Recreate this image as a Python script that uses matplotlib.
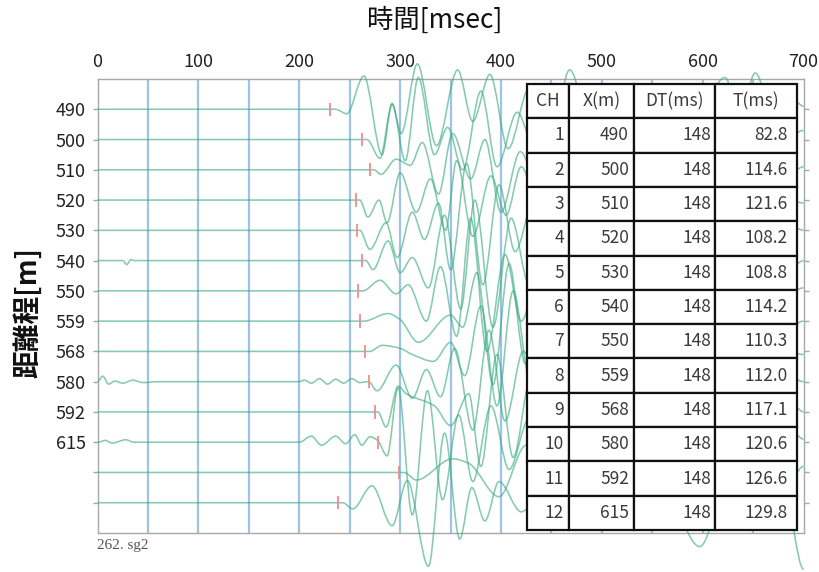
import matplotlib
matplotlib.use('Agg')
import matplotlib.pyplot as plt
from matplotlib.path import Path
from matplotlib.patches import PathPatch

plt.rcParams['font.family'] = ['Noto Sans CJK JP', 'DejaVu Sans']

# ---------------- data ----------------
row_labels = ['490', '500', '510', '520', '530', '540', '550', '559', '568', '580', '592', '615', '', '']
time_ticks = [0, 100, 200, 300, 400, 500, 600, 700]
grid_ms = [50, 100, 150, 200, 250, 300, 350, 400, 450, 500, 550, 600, 650]

table_ch = [1, 2, 3, 4, 5, 6, 7, 8, 9, 10, 11, 12]
table_x = [490, 500, 510, 520, 530, 540, 550, 559, 568, 580, 592, 615]
table_dt = [148, 148, 148, 148, 148, 148, 148, 148, 148, 148, 148, 148]
table_t = [82.8, 114.6, 121.6, 108.2, 108.8, 114.2, 110.3, 112.0, 117.1, 120.6, 126.6, 129.8]

# first-break picks (ms) for each of the 14 traces
pick_ms = [230.8, 262.6, 269.6, 256.2, 256.8, 262.2, 258.3, 260.0, 265.1, 268.6, 274.6, 277.8, 299.0, 238.6]

# trace knots: (time ms, amplitude in trace spacings, + = up)
trace_01 = [(0, 0), (236, 0), (240, -0.05), (247, -0.15), (264, 1.1), (282, -1.5), (292, 0.2), (301, -0.8),
            (317, 1.5), (336, -1.2), (357, 1.3), (372, -0.4), (389, 1.15), (407, -1.3), (428, 0.7), (450, -0.8),
            (468, 1.3), (490, -0.6), (515, 0.7), (540, -0.9), (565, 0.6), (590, -0.5), (622, 1.05), (637, -0.2),
            (652, 1.2), (672, -0.4), (690, 0.3), (700, 0.1)]
trace_02 = [(0, 0), (262.6, 0), (267, 0), (280, -0.62), (292, 1.15), (305, -0.7),
            (318, 2.05), (334, -0.5), (347, 0.4), (362, -1.0), (380, 1.6), (396, -0.9), (416, 0.9), (437, -0.7),
            (462, 0.8), (488, -0.5), (510, 0.6), (540, -0.8), (575, 0.5), (605, -0.6), (640, 0.7), (668, -0.4),
            (700, 0.3)]
trace_03 = [(0, 0), (269.6, 0), (274, 0), (281, -0.15), (296, 0.35), (310, 0.15), (322, 0.9), (338, -0.8),
            (352, 1.2), (370, -0.3), (384, 1.0), (400, -1.4), (419, 0.6), (440, -0.8), (462, 0.9), (490, -0.6),
            (520, 0.7), (550, -0.5), (585, 0.6), (615, -0.7), (650, 0.5), (680, -0.3), (700, 0.1)]
trace_04 = [(0, 0), (256.2, 0), (260, 0), (268, -0.56), (279, 0.0), (287, -0.75), (300, 0.9), (316, -0.4),
            (330, 0.7), (345, -1.0), (356, 1.3), (372, -1.2), (390, 0.8), (405, -0.5), (420, 1.1), (442, -0.9),
            (470, 0.6), (500, -0.7), (530, 0.5), (560, -0.6), (595, 0.7), (630, -0.5), (665, 0.4), (700, -0.1)]
trace_05 = [(0, 0), (256.8, 0), (260, 0), (270, -0.63), (286, 0.25), (297, -0.9), (312, 0.6), (324, -0.3),
            (338, 0.9), (350, -1.3), (366, 2.2), (382, -1.8), (398, 1.5), (414, -0.7), (432, 0.9), (455, -0.6),
            (480, 0.5), (505, -0.5), (540, 0.6), (575, -0.4), (610, 0.5), (645, -0.6), (680, 0.3), (700, 0)]
trace_06 = [(0, 0), (25, 0), (29, -0.13), (33, 0.03), (37, 0), (262.2, 0), (266, 0), (273, -0.3), (288, 0.65),
            (300, -0.4), (312, 0.1), (328, -0.9), (344, 1.5), (360, -1.6), (374, 2.0), (392, -2.2), (410, 1.4),
            (428, -0.8), (450, 0.7), (478, -0.6), (505, 0.5), (540, -0.7), (575, 0.6), (610, -0.4), (650, 0.5),
            (685, -0.3), (700, 0)]
trace_07 = [(0, 0), (258.3, 0), (263, 0), (280, 0.35), (296, -0.1), (308, 0.2), (326, -1.0), (340, 0.8),
            (356, -1.5), (370, 2.4), (386, -2.0), (404, 1.2), (420, -1.0), (440, 0.9), (465, -0.5), (495, 0.6),
            (530, -0.5), (565, 0.4), (600, -0.6), (640, 0.5), (675, -0.3), (700, 0.1)]
trace_08 = [(0, 0), (260, 0), (264, 0), (288, 0.25), (300, 0.05), (318, -0.7), (350, 0.2), (362, -0.2),
            (376, 1.6), (392, -2.1), (408, 1.9), (424, -1.4), (442, 0.8), (466, -0.7), (492, 0.6), (525, -0.5),
            (560, 0.5), (600, -0.4), (640, 0.5), (680, -0.3), (700, 0)]
trace_09 = [(0, 0), (265.1, 0), (270, 0), (282, 0.2), (300, 0.1), (312, -0.1), (333, -0.33), (350, 0.3),
            (364, -0.8), (380, 1.5), (396, -1.8), (412, 2.0), (430, -1.2), (450, 0.9), (475, -0.7), (505, 0.6),
            (540, -0.5), (575, 0.4), (615, -0.5), (655, 0.4), (700, -0.1)]
trace_10 = [(0, 0), (5, 0.18), (11, -0.08), (17, 0.02), (25, -0.05), (35, 0.05), (45, -0.03), (60, 0.0),
            (200, 0), (205, 0.05), (212, -0.05), (220, 0.1), (228, -0.08), (236, 0.08), (244, -0.05),
            (252, 0.1), (260, -0.03), (268.6, 0), (277, -0.3), (296, 0.55), (312, -0.55), (326, 0.4), (340, -0.5),
            (354, 1.1), (372, -1.6), (388, 1.7), (404, -1.3), (422, 1.0), (445, -0.8), (470, 0.6), (500, -0.6),
            (530, 0.5), (565, -0.5), (600, 0.4), (640, -0.5), (680, 0.3), (700, 0)]
trace_11 = [(0, 0), (274.6, 0), (278, 0), (286, -0.5), (298, 0.85), (306, 0.6), (334, 0.2), (350, -0.45),
            (368, 0.6), (380, -1.8), (396, 1.9), (412, -1.5), (430, 1.2), (452, -0.9), (478, 0.7), (508, -0.6),
            (540, 0.5), (575, -0.5), (610, 0.4), (650, -0.5), (690, 0.2), (700, 0)]
trace_12 = [(0, 0), (8, 0.06), (14, -0.03), (28, 0.08), (36, 0), (200, 0), (212, 0.2), (222, -0.1),
            (236, 0.2), (246, -0.05), (255, 0.25), (262, -0.1), (270, 0.18), (277.8, 0.05), (287, -0.45),
            (298, 1.8), (312, -2.4), (327, 1.7), (342, -1.9), (358, 0.9), (372, -1.3), (390, 1.2), (408, -0.9),
            (428, 0.8), (452, -0.7), (478, 0.6), (505, -0.5), (540, 0.6), (575, -0.5), (610, 0.4), (650, -0.5),
            (690, 0.3), (700, 0.1)]
trace_13 = [(0, 0), (299, 0), (304, 0), (316, -0.25), (352, 0.45), (368, 0.3), (398, -0.8), (425, 0.9),
            (450, -0.7), (478, 0.8), (505, -0.9), (535, 0.7), (565, -0.8), (590, 0.6), (620, -0.7), (650, 0.5),
            (680, -0.6), (700, 0.2)]
trace_14 = [(0, 0), (238.6, 0), (243, 0), (253, -0.2), (272, 0.56), (292, -0.76), (307, 0.73), (328, -2.1),
            (344, 2.3), (359, -1.2), (371, 0.5), (384, -0.6), (398, 0.7), (420, -0.3), (445, 0.5), (470, -0.6),
            (500, 0.4), (530, -0.5), (560, 0.5), (597, -1.45), (625, 0.6), (655, -0.4), (680, 0.5), (700, -2.2)]

traces = [trace_01, trace_02, trace_03, trace_04, trace_05, trace_06, trace_07,
          trace_08, trace_09, trace_10, trace_11, trace_12, trace_13, trace_14]


def smooth_path(knots, base):
    ts = [k[0] for k in knots]
    ys = [base - k[1] for k in knots]
    n = len(ts)
    m = [0.0] * n
    for i in range(1, n - 1):
        d0 = (ys[i] - ys[i - 1]) / (ts[i] - ts[i - 1])
        d1 = (ys[i + 1] - ys[i]) / (ts[i + 1] - ts[i])
        if d0 * d1 <= 0:
            m[i] = 0.0
        else:
            m[i] = 2.0 / (1.0 / d0 + 1.0 / d1)
    verts = [(ts[0], ys[0])]
    codes = [Path.MOVETO]
    for i in range(n - 1):
        h = ts[i + 1] - ts[i]
        verts += [(ts[i] + h / 3, ys[i] + m[i] * h / 3),
                  (ts[i + 1] - h / 3, ys[i + 1] - m[i + 1] * h / 3),
                  (ts[i + 1], ys[i + 1])]
        codes += [Path.CURVE4] * 3
    return Path(verts, codes)


# ---------------- figure ----------------
fig = plt.figure(figsize=(8.2, 5.72), dpi=100)
ax = fig.add_axes([97.6 / 820, 1 - 533 / 572, 706 / 820, 454 / 572])
ax.set_xlim(0, 700)
ax.set_ylim(15, 0)

ax.vlines(grid_ms, 0, 15, colors='#9dc3e6', lw=1.6, zorder=1)

rows = list(range(1, len(traces) + 1))
for r, knots in zip(rows, traces):
    p = PathPatch(smooth_path(knots, r), facecolor='none', edgecolor='#35a97c', lw=1.15,
                  alpha=0.6, clip_on=False, zorder=3)
    ax.add_patch(p)

ax.vlines(pick_ms, [r - 0.22 for r in rows], [r + 0.22 for r in rows],
          colors='#f08c8c', lw=1.3, zorder=4)

# axes styling
for s in ax.spines.values():
    s.set_color('#a8a8a8')
    s.set_linewidth(1.0)
ax.xaxis.tick_top()
ax.set_xticks(time_ticks)
ax.set_xticklabels([str(v) for v in time_ticks])
ax.tick_params(axis='x', length=0, pad=6, labelsize=13, colors='#222222')
ax.set_yticks(rows)
ax.set_yticklabels(row_labels)
ax.tick_params(axis='y', left=True, right=True, length=3.5, width=1, color='#a8a8a8',
               labelsize=13, pad=5, labelcolor='#222222')

# table
cell_text = [[str(c), str(x), str(d), f'{t:.1f}'] for c, x, d, t in zip(table_ch, table_x, table_dt, table_t)]
col_w = [42, 65, 81, 82]
tbl = ax.table(cellText=cell_text, colLabels=['CH', 'X(m)', 'DT(ms)', 'T(ms)'],
               cellLoc='right', colLoc='center', colWidths=[w / 270 for w in col_w],
               bbox=[(527 - 97.6) / 706, (533 - 530) / 454, 270 / 706, 446 / 454])
tbl.auto_set_font_size(False)
tbl.set_fontsize(12.5)
tbl.set_zorder(10)
pads = [5, 5, 4, 9]
for (ri, ci), cell in tbl.get_celld().items():
    cell.set_edgecolor('#111111')
    cell.set_linewidth(1.6)
    cell.set_facecolor('white')
    cell.get_text().set_color('#3a3a3a')
    if ri > 0:
        cell.PAD = pads[ci] / col_w[ci]

# texts
fig.text(367 / 820, 1 - 20 / 572, '時間[msec]', ha='left', va='center', fontsize=19, color='#111111')
fig.text(28 / 820, 1 - 313 / 572, '距離程[m]', rotation=90, ha='center', va='center',
         fontsize=20, fontweight='bold', color='#111111')
fig.text(97 / 820, 1 - 545 / 572, '262. sg2', ha='left', va='center', fontsize=11,
         family='Liberation Serif', color='#555555')

fig.savefig('out.png', dpi=100)
